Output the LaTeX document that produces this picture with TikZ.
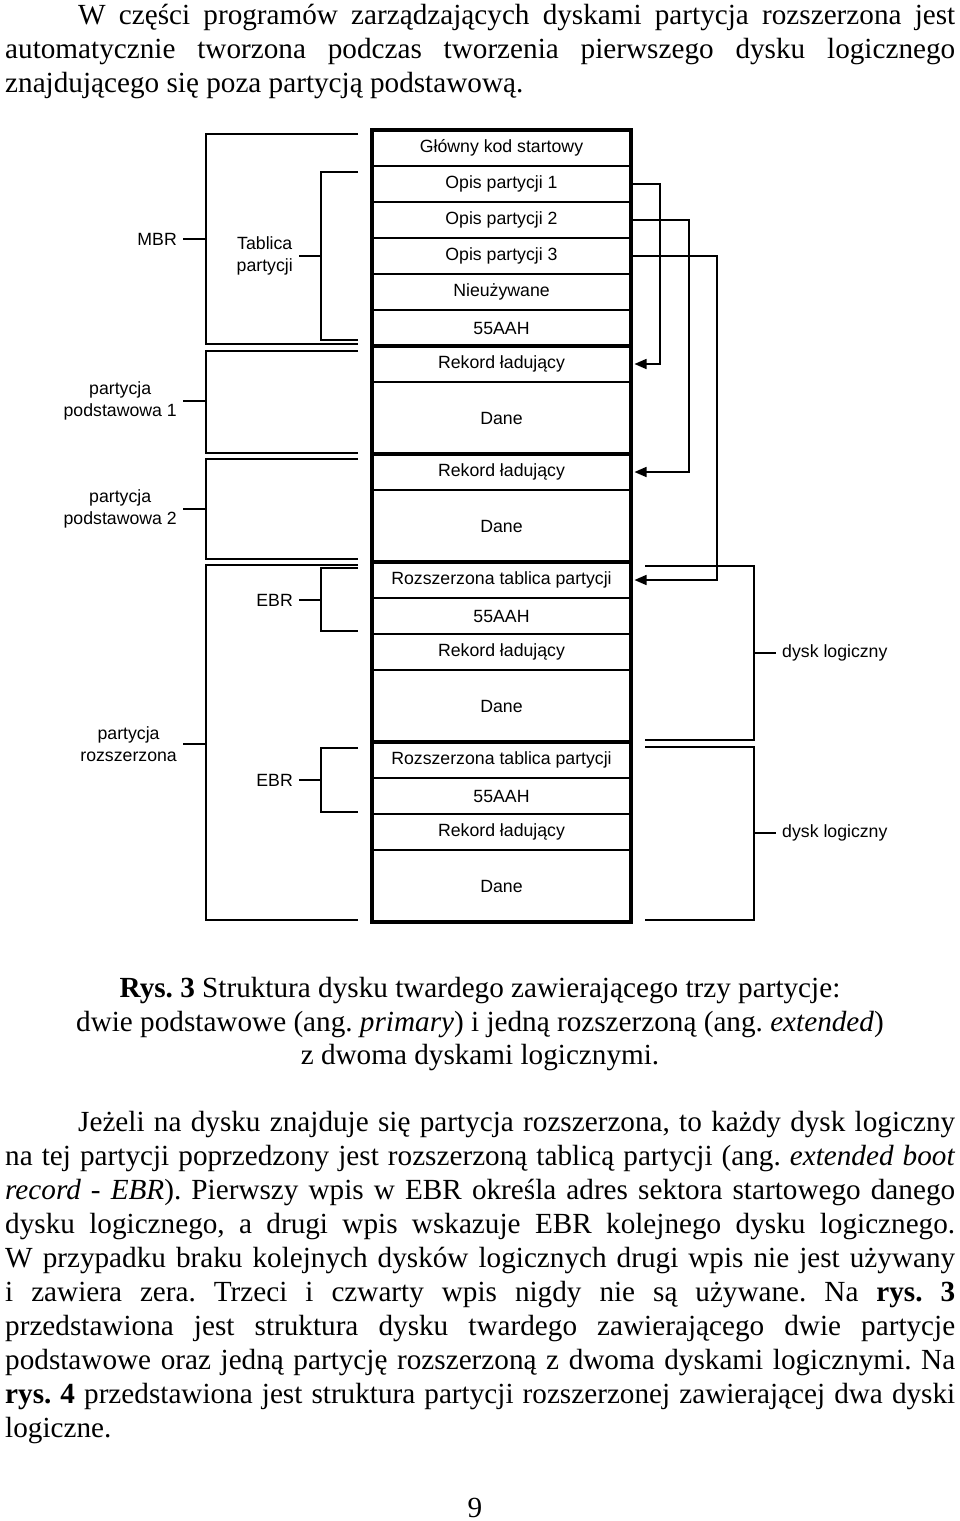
\documentclass[tikz,border=0pt]{standalone}
\usepackage{fontspec}
\setmainfont{Liberation Serif}
\newfontfamily\arialf{Liberation Sans}
\usetikzlibrary{arrows.meta}
\newcommand{\dfont}{\arialf\fontsize{17.7}{22.5}\selectfont}
\newcommand{\bfont}{\fontsize{29.2}{34}\selectfont}
\newcommand{\jl}[2]{\makebox[#1][s]{#2}}
\frenchspacing
\begin{document}
\begin{tikzpicture}[x=1pt,y=-1pt,
  cell/.style={draw, line width=1.3pt, minimum width=259pt, minimum height=36pt, inner sep=0pt, outer sep=0pt, font=\dfont},
  tall/.style={cell, minimum height=72pt},
  frame/.style={line width=4.5pt},
  br/.style={line width=1.6pt},
  lbl/.style={font=\dfont, align=center, inner sep=6pt},
  arr/.style={line width=1.6pt, -{Triangle[length=12pt,width=10pt]}, shorten >=3.5pt},
  txt/.style={anchor=base west, inner sep=0pt, font=\bfont},
  ctxt/.style={anchor=base, inner sep=0pt, font=\bfont}]
\useasboundingbox (0,0) rectangle (960,1521);

% body text
\node[txt] (p1a) at (78,24) {\jl{877pt}{W części programów zarządzających dyskami partycja rozszerzona jest}};
\node[txt] (p1b) at (5,58) {\jl{950pt}{automatycznie tworzona podczas tworzenia pierwszego dysku logicznego}};
\node[txt] (p1c) at (5,92) {znajdującego się poza partycją podstawową.};

% column cells
\node[cell] (c1) at (501.5,148) {Główny kod startowy};
\node[cell] (c2) at (501.5,184) {Opis partycji 1};
\node[cell] (c3) at (501.5,220) {Opis partycji 2};
\node[cell] (c4) at (501.5,256) {Opis partycji 3};
\node[cell] (c5) at (501.5,292) {Nieużywane};
\node[cell] (c6) at (501.5,328) {55AAH};
\node[cell] (c7) at (501.5,364) {Rekord ładujący};
\node[tall] (c8) at (501.5,418) {Dane};
\node[cell] (c9) at (501.5,472) {Rekord ładujący};
\node[tall] (c10) at (501.5,526) {Dane};
\node[cell] (c11) at (501.5,580) {Rozszerzona tablica partycji};
\node[cell] (c12) at (501.5,616) {55AAH};
\node[cell] (c13) at (501.5,652) {Rekord ładujący};
\node[tall] (c14) at (501.5,706) {Dane};
\node[cell] (c15) at (501.5,760) {Rozszerzona tablica partycji};
\node[cell] (c16) at (501.5,796) {55AAH};
\node[cell] (c17) at (501.5,832) {Rekord ładujący};
\node[tall] (c18) at (501.5,886) {Dane};

\draw[frame] (c1.north west) rectangle (c18.south east);
\foreach \c in {c6,c8,c10,c14} \draw[frame] (\c.south west) -- (\c.south east);

% left brackets
\node[lbl, anchor=east] (mbr) at (183,239) {MBR};
\draw[br] (358,134) -| (206,344) -- (358,344);
\draw[br] (mbr.east) -- (206,239);

\node[lbl, anchor=east] (tp) at (299,256) {Tablica\\partycji};
\draw[br] (358,172) -| (321,340) -- (358,340);
\draw[br] (tp.east) -- (321,256);

\node[lbl, anchor=east] (pp1) at (183,401) {partycja\\podstawowa 1};
\draw[br] (358,351) -| (206,453) -- (358,453);
\draw[br] (pp1.east) -- (206,401);

\node[lbl, anchor=east] (pp2) at (183,509) {partycja\\podstawowa 2};
\draw[br] (358,459) -| (206,559) -- (358,559);
\draw[br] (pp2.east) -- (206,509);

\node[lbl, anchor=east] (pr) at (183,744) {partycja\\rozszerzona};
\draw[br] (358,565) -| (206,920) -- (358,920);
\draw[br] (pr.east) -- (206,744);

\node[lbl, anchor=east] (ebr1) at (299,600) {EBR};
\draw[br] (358,568) -| (321,631) -- (358,631);
\draw[br] (ebr1.east) -- (321,600);

\node[lbl, anchor=east] (ebr2) at (299,780) {EBR};
\draw[br] (358,748) -| (321,812) -- (358,812);
\draw[br] (ebr2.east) -- (321,780);

% right brackets
\node[lbl, anchor=west] (dl1) at (776,653) {dysk logiczny};
\draw[br] (645,566) -| (754,740) -- (645,740);
\draw[br] (754,653) -- (dl1.west);

\node[lbl, anchor=west] (dl2) at (776,833) {dysk logiczny};
\draw[br] (645,747) -| (754,920) -- (645,920);
\draw[br] (754,833) -- (dl2.west);

% arrows
\draw[arr] (c2.east) -- ++(29,0) |- (c7.east);
\draw[arr] (c3.east) -- ++(58,0) |- (c9.east);
\draw[arr] (c4.east) -- ++(86,0) |- (c11.east);

% caption
\node[ctxt] (cap1) at (480,997) {\textbf{Rys. 3} Struktura dysku twardego zawierającego trzy partycje:};
\node[ctxt] (cap2) at (480,1031) {dwie podstawowe (ang. \textit{primary}) i jedną rozszerzoną (ang. \textit{extended})};
\node[ctxt] (cap3) at (480,1064) {z dwoma dyskami logicznymi.};

% paragraph 2
\node[txt] (q1) at (78,1131) {\jl{877pt}{Jeżeli na dysku znajduje się partycja rozszerzona, to każdy dysk logiczny}};
\node[txt] (q2) at (5,1165) {\jl{950pt}{na tej partycji poprzedzony jest rozszerzoną tablicą partycji (ang. \textit{extended boot}}};
\node[txt] (q3) at (5,1199) {\jl{950pt}{\textit{record - EBR}). Pierwszy wpis w EBR określa adres sektora startowego danego}};
\node[txt] (q4) at (5,1233) {\jl{950pt}{dysku logicznego, a drugi wpis wskazuje EBR kolejnego dysku logicznego.}};
\node[txt] (q5) at (5,1267) {\jl{950pt}{W przypadku braku kolejnych dysków logicznych drugi wpis nie jest używany}};
\node[txt] (q6) at (5,1301) {\jl{950pt}{i zawiera zera. Trzeci i czwarty wpis nigdy nie są używane. Na \textbf{rys. 3}}};
\node[txt] (q7) at (5,1335) {\jl{950pt}{przedstawiona jest struktura dysku twardego zawierającego dwie partycje}};
\node[txt] (q8) at (5,1369) {\jl{950pt}{podstawowe oraz jedną partycję rozszerzoną z dwoma dyskami logicznymi. Na}};
\node[txt] (q9) at (5,1403) {\jl{950pt}{\textbf{rys. 4} przedstawiona jest struktura partycji rozszerzonej zawierającej dwa dyski}};
\node[txt] (q10) at (5,1437) {logiczne.};

\node[ctxt] (pg) at (475,1517) {9};
\end{tikzpicture}
\end{document}
